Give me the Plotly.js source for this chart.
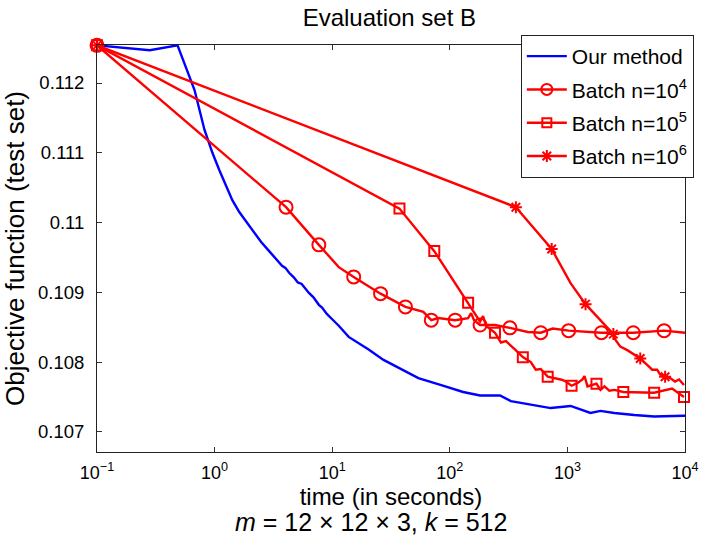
<!DOCTYPE html>
<html>
<head>
<meta charset="utf-8">
<script src="https://cdn.plot.ly/plotly-3.0.1.min.js"></script>
<style>html,body{margin:0;padding:0;background:#fff;}#chart{width:706px;height:538px;}</style>
</head>
<body>
<div id="chart"></div>
<script>
// ---- Data ----
const seriesNames = ["Our method", "Batch n=10<sup>4</sup>", "Batch n=10<sup>5</sup>", "Batch n=10<sup>6</sup>"];

// Our method (blue)
const ourT = [0.1, 0.281, 0.484, 0.675, 0.82, 0.958, 1.098, 1.415, 1.621, 2.088, 2.489, 2.909, 3.2, 3.746, 4.0, 4.3, 4.733, 5.1, 5.5, 6.339, 6.9, 7.701, 8.2, 9.0, 9.9, 11.37, 13.81, 20.4, 27.33, 36.61, 54.04, 84.57, 129.8, 180.8, 267.0, 330.7, 488.4, 721.0, 1064, 1572, 1910, 2508, 3703, 5467, 9806, 10000];
const ourY = [0.11254, 0.11247, 0.11254, 0.1119, 0.11133, 0.111, 0.11075, 0.11032, 0.11015, 0.10989, 0.10972, 0.10959, 0.10951, 0.10938, 0.10935, 0.10928, 0.10921, 0.10914, 0.10912, 0.10899, 0.10893, 0.10882, 0.10878, 0.10869, 0.10862, 0.10852, 0.10836, 0.10818, 0.10803, 0.10792, 0.10777, 0.10767, 0.10757, 0.10752, 0.10752, 0.10744, 0.10739, 0.10734, 0.10737, 0.10727, 0.1073, 0.10727, 0.10724, 0.10722, 0.10723, 0.10723];

// Batch n=10^4 (circles)
const b4T = [0.1, 4.05, 7.701, 11.37, 15.23, 25.77, 41.95, 51.96, 59.57, 69.59, 79.78, 111.1, 143.1, 151.7, 160.8, 180.8, 242.2, 324.3, 460.6, 593.3, 749.7, 1024, 1947, 3632, 6643, 10000];
const b4Y = [0.11254, 0.11022, 0.10968, 0.10936, 0.10922, 0.10898, 0.10879, 0.10875, 0.10872, 0.1086, 0.10863, 0.1086, 0.10863, 0.1087, 0.1086, 0.10853, 0.10853, 0.10849, 0.10843, 0.10842, 0.10848, 0.10845, 0.10842, 0.10842, 0.10845, 0.10842];
const b4Mark = [1, 1, 1, 0, 1, 1, 1, 0, 0, 1, 0, 1, 0, 0, 0, 1, 0, 1, 0, 1, 0, 1, 1, 1, 1, 0];

// Batch n=10^5 (squares)
const b5T = [0.1, 37.33, 73.79, 143.1, 180.8, 191.7, 203.2, 242.2, 272.2, 300.1, 324.3, 357.6, 417.8, 488.4, 538.3, 593.3, 680.0, 779.2, 876.1, 947.0, 1085, 1220, 1345, 1398, 1482, 1766, 1910, 2064, 2275, 2508, 2989, 5467, 7762, 9806];
const b5Y = [0.11254, 0.1102, 0.10959, 0.10885, 0.10858, 0.10866, 0.10852, 0.10842, 0.10828, 0.1083, 0.10825, 0.10818, 0.10807, 0.108, 0.10789, 0.1079, 0.10779, 0.10777, 0.10775, 0.10773, 0.10766, 0.1077, 0.10775, 0.1078, 0.10765, 0.10769, 0.1076, 0.10765, 0.10759, 0.1076, 0.10757, 0.10756, 0.10762, 0.1075];
const b5Mark = [1, 1, 1, 1, 0, 0, 0, 1, 0, 0, 0, 0, 1, 0, 0, 0, 1, 0, 0, 0, 1, 0, 0, 0, 0, 1, 0, 0, 0, 0, 1, 1, 0, 1];

// Batch n=10^6 (asterisks)
const b6T = [0.1, 364.7, 734.9, 1064, 1426, 2460, 2557, 2819, 3230, 3703, 4163, 4770, 5258, 5797, 6145, 6774, 7467, 8230, 8897, 9806];
const b6Y = [0.11254, 0.11022, 0.10962, 0.10913, 0.10883, 0.1084, 0.10832, 0.10822, 0.10817, 0.1081, 0.10805, 0.10796, 0.10789, 0.10789, 0.10782, 0.10779, 0.10777, 0.10772, 0.10775, 0.10767];
const b6Mark = [1, 1, 1, 0, 1, 1, 0, 0, 0, 0, 1, 0, 0, 0, 0, 1, 0, 0, 0, 0];

const xTickVals = [0.1, 1, 10, 100, 1000, 10000];
const xTickText = ["10<sup>−1</sup>", "10<sup>0</sup>", "10<sup>1</sup>", "10<sup>2</sup>", "10<sup>3</sup>", "10<sup>4</sup>"];
const yTickVals = [0.107, 0.108, 0.109, 0.11, 0.111, 0.112];
const yTickText = ["0.107", "0.108", "0.109", "0.11", "0.111", "0.112"];

// ---- Styling ----
const FONT = '"Liberation Sans", Arial, Helvetica, sans-serif';
const BLUE = '#0000ff', RED = '#ff0000';
const LW = 2.4;

function sizes(flags, s) { return flags.map(f => f ? s : 0); }

const traces = [
  {x: ourT, y: ourY, mode: 'lines', line: {color: BLUE, width: LW}, showlegend: false, cliponaxis: false, hoverinfo: 'skip'},
  {x: b4T, y: b4Y, mode: 'lines+markers', line: {color: RED, width: LW},
   marker: {symbol: 'circle-open', size: sizes(b4Mark, 13), opacity: 1, color: RED, line: {width: 2, color: RED}},
   showlegend: false, cliponaxis: false},
  {x: b5T, y: b5Y, mode: 'lines+markers', line: {color: RED, width: LW},
   marker: {symbol: 'square-open', size: sizes(b5Mark, 10), opacity: 1, color: RED, line: {width: 2, color: RED}},
   showlegend: false, cliponaxis: false},
  {x: b6T, y: b6Y, mode: 'lines+markers', line: {color: RED, width: LW},
   marker: {symbol: 'asterisk-open', size: sizes(b6Mark, 10), opacity: 1, color: RED, line: {width: 2, color: RED}},
   showlegend: false, cliponaxis: false},
  // legend entries
  {x: [null], y: [null], name: seriesNames[0], mode: 'lines', line: {color: BLUE, width: LW}, legendgroup: 'a'},
  {x: [null], y: [null], name: seriesNames[1], mode: 'lines+markers', line: {color: RED, width: LW},
   marker: {symbol: 'circle-open', size: 11, opacity: 1, color: RED, line: {width: 2, color: RED}}, legendgroup: 'b'},
  {x: [null], y: [null], name: seriesNames[2], mode: 'lines+markers', line: {color: RED, width: LW},
   marker: {symbol: 'square-open', size: 9, opacity: 1, color: RED, line: {width: 2, color: RED}}, legendgroup: 'c'},
  {x: [null], y: [null], name: seriesNames[3], mode: 'lines+markers', line: {color: RED, width: LW},
   marker: {symbol: 'asterisk-open', size: 10, opacity: 1, color: RED, line: {width: 2, color: RED}}, legendgroup: 'd'}
];

const layout = {
  width: 706, height: 538,
  margin: {l: 97, r: 18, t: 45, b: 86},
  paper_bgcolor: '#fff', plot_bgcolor: '#fff',
  font: {family: FONT, color: '#000', size: 18},
  title: {text: 'Evaluation set B', font: {size: 24, family: FONT, color: '#000'}, x: 0.5515, xanchor: 'center', y: 0.9665, yanchor: 'middle'},
  xaxis: {
    type: 'log', range: [-1, 4],
    tickvals: xTickVals, ticktext: xTickText,
    ticks: 'inside', ticklen: 5, tickcolor: '#333', tickwidth: 1,
    showline: true, linecolor: '#222', linewidth: 1, mirror: 'ticks',
    showgrid: false, zeroline: false,
    tickfont: {size: 18, family: FONT},
    ticklabelstandoff: 4,
    title: {text: 'time (in seconds)', font: {size: 24, family: FONT}, standoff: 6}
  },
  yaxis: {
    range: [0.10671, 0.112545],
    tickvals: yTickVals, ticktext: yTickText,
    ticks: 'inside', ticklen: 5, tickcolor: '#333', tickwidth: 1,
    showline: true, linecolor: '#222', linewidth: 1, mirror: 'ticks',
    showgrid: false, zeroline: false,
    tickfont: {size: 18.5, family: FONT},
    ticklabelstandoff: 8,
    title: {text: 'Objective function (test set)', font: {size: 26, family: FONT}, standoff: 8}
  },
  legend: {
    x: 0.7208, y: 1.0246, xanchor: 'left', yanchor: 'top',
    bgcolor: '#fff', bordercolor: '#222', borderwidth: 1,
    font: {size: 21, family: FONT},
    traceorder: 'grouped', tracegroupgap: 3,
    itemwidth: 40
  },
  annotations: [{
    xref: 'paper', yref: 'paper', x: 0.4653, y: -0.172, xanchor: 'center', yanchor: 'middle',
    text: '<i>m</i> = 12 × 12 × 3, <i>k</i> = 512', showarrow: false,
    font: {size: 25, family: FONT, color: '#000'}
  }],
  showlegend: true
};

Plotly.newPlot('chart', traces, layout, {displayModeBar: false, staticPlot: true});
</script>
</body>
</html>
